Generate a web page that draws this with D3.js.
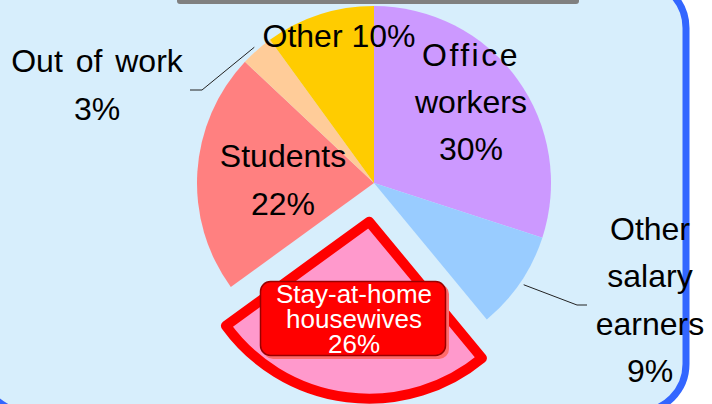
<!DOCTYPE html>
<html>
<head>
<meta charset="utf-8">
<style>
  html, body { margin: 0; padding: 0; background: #fff; }
  svg { display: block; font-family: "Liberation Sans", Arial, sans-serif; }
</style>
</head>
<body>
<svg id="chart" width="712" height="404"></svg>
<script src="https://cdnjs.cloudflare.com/ajax/libs/d3/7.8.5/d3.min.js"></script>
<script>
// data, clockwise from 12 o'clock
var categories = ["Office workers", "Other salary earners", "Stay-at-home housewives", "Students", "Out of work", "Other"];
var values = [30, 9, 26, 22, 3, 10];
var labelLines = [["Office", "workers"], ["Other", "salary", "earners"], ["Stay-at-home", "housewives"], ["Students"], ["Out of work"], []];

var colors = ["#cc99ff", "#99ccff", "#ff99cc", "#ff8080", "#ffcc99", "#ffcc00"];

var cx = 374, cy = 183, r = 177;
var explodeIndex = 2, explodeDist = 39;

var svg = d3.select("#chart");

// panel
svg.append("rect")
    .attr("x", -20).attr("y", -20)
    .attr("width", 706).attr("height", 432)
    .attr("rx", 48)
    .attr("fill", "#d7eefc")
    .attr("stroke", "#3366ff")
    .attr("stroke-width", 7);

// bottom of title box above
svg.append("rect")
    .attr("x", 177).attr("y", -10)
    .attr("width", 402).attr("height", 14)
    .attr("rx", 3)
    .attr("fill", "#808080");

var pie = d3.pie().sort(null).value(function(d) { return d; });
var arcs = pie(values);
var arc = d3.arc().innerRadius(0).outerRadius(r);

var g = svg.append("g").attr("transform", "translate(" + cx + "," + cy + ")");

function offset(d) {
  if (d.index !== explodeIndex) return [0, 0];
  var a = (d.startAngle + d.endAngle) / 2;
  return [Math.sin(a) * explodeDist, -Math.cos(a) * explodeDist];
}

g.selectAll("path.slice")
    .data(arcs)
    .enter().append("path")
    .attr("class", "slice")
    .attr("d", arc)
    .attr("transform", function(d) { var o = offset(d); return "translate(" + o[0] + "," + o[1] + ")"; })
    .attr("fill", function(d, i) { return colors[i]; })
    .attr("stroke", function(d) { return d.index === explodeIndex ? "#ff0000" : "none"; })
    .attr("stroke-width", function(d) { return d.index === explodeIndex ? 10 : 0; })
    .attr("stroke-linejoin", "round");

// leader lines for outside labels
var leaders = [
  { i: 4, elbow: [202, 90], end: [190, 90] },
  { i: 1, elbow: [577, 305], end: [587, 305] }
];
leaders.forEach(function(l) {
  var d = arcs[l.i];
  var a = (d.startAngle + d.endAngle) / 2;
  var p0 = [cx + Math.sin(a) * (r + 4), cy - Math.cos(a) * (r + 4)];
  svg.append("polyline")
      .attr("points", [p0, l.elbow, l.end].map(function(p) { return p.join(","); }).join(" "))
      .attr("fill", "none")
      .attr("stroke", "#222")
      .attr("stroke-width", 1);
});

// label box for the highlighted slice
svg.append("rect")
    .attr("x", 263).attr("y", 284)
    .attr("width", 186).attr("height", 75)
    .attr("rx", 10)
    .attr("fill", "#ff6b6b");
svg.append("rect")
    .attr("x", 260.5).attr("y", 281.5)
    .attr("width", 185).attr("height", 74)
    .attr("rx", 10)
    .attr("fill", "#ff0000")
    .attr("stroke", "#990000")
    .attr("stroke-width", 1.5);

// label placement: centre x, first baseline, line step, size, colour
var labelPos = [
  { x: 471, y: 66, step: 47, size: 32, fill: "#000", ls: [2.5, 0, 0] },
  { x: 650, y: 240, step: 47.3, size: 32, fill: "#000" },
  { x: 354, y: 303, step: 25, size: 26, fill: "#fff" },
  { x: 283, y: 167, step: 48, size: 32, fill: "#000" },
  { x: 97, y: 72, step: 48, size: 32, fill: "#000", ws: 4 },
  { x: 339, y: 47, step: 48, size: 32, fill: "#000" }
];

arcs.forEach(function(d, i) {
  var p = labelPos[i];
  var lines = labelLines[i].slice();
  var pct = values[i] + "%";
  if (lines.length) lines.push(pct); else lines = [categories[i] + " " + pct];
  var t = svg.append("text")
      .attr("text-anchor", "middle")
      .attr("font-size", p.size)
      .attr("fill", p.fill);
  if (p.ws) t.attr("word-spacing", p.ws);
  lines.forEach(function(s, k) {
    var ts = t.append("tspan").attr("x", p.x).attr("y", p.y + k * p.step).text(s);
    if (p.ls && p.ls[k]) ts.attr("letter-spacing", p.ls[k]);
  });
});
</script>
</body>
</html>
